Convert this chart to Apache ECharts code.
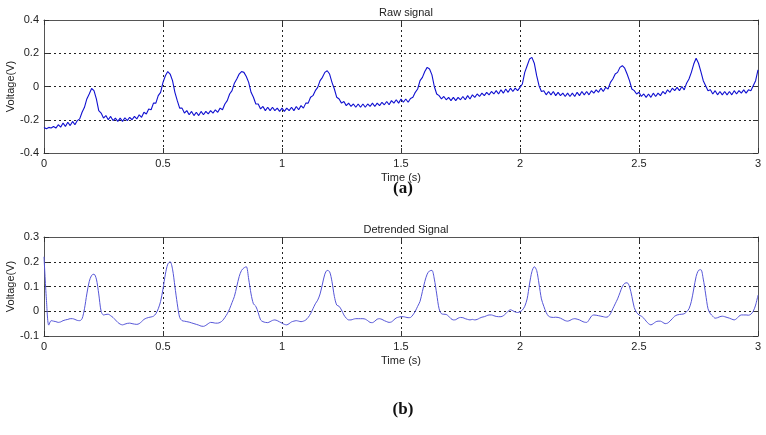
<!DOCTYPE html>
<html>
<head>
<meta charset="utf-8">
<script src="https://cdn.jsdelivr.net/npm/echarts@6/dist/echarts.min.js"></script>
<style>
html,body{margin:0;padding:0;background:#fff;}
#chart{width:766px;height:435px;}
</style>
</head>
<body>
<div id="chart"></div>
<script>
// sampling step (s)
const sampleStep = 0.01;
const xTicks = ['0', '0.5', '1', '1.5', '2', '2.5', '3'];
const rawTicks = ['-0.4', '-0.2', '0', '0.2', '0.4'];
const detTicks = ['-0.1', '0', '0.1', '0.2', '0.3'];

// Raw signal, one value per 10 ms (0.00 .. 3.00 s)
const rawSignal = [
  -0.246,-0.254,-0.246,-0.25,-0.241,-0.25,-0.23,-0.245,-0.22,-0.24,
  -0.215,-0.235,-0.21,-0.23,-0.205,-0.195,-0.155,-0.125,-0.075,-0.045,
  -0.012,-0.025,-0.075,-0.145,-0.16,-0.19,-0.175,-0.2,-0.18,-0.205,
  -0.19,-0.21,-0.19,-0.21,-0.188,-0.205,-0.185,-0.2,-0.18,-0.195,
  -0.17,-0.185,-0.155,-0.165,-0.135,-0.14,-0.1,-0.1,-0.055,-0.035,
  0.025,0.065,0.09,0.075,0.035,-0.035,-0.085,-0.13,-0.13,-0.16,
  -0.145,-0.17,-0.15,-0.175,-0.155,-0.175,-0.15,-0.17,-0.15,-0.165,
  -0.145,-0.16,-0.14,-0.155,-0.13,-0.14,-0.105,-0.085,-0.045,-0.025,
  0.02,0.045,0.075,0.09,0.085,0.06,0.025,-0.035,-0.065,-0.105,
  -0.105,-0.135,-0.12,-0.145,-0.125,-0.145,-0.125,-0.145,-0.13,-0.15,
  -0.13,-0.15,-0.13,-0.145,-0.125,-0.145,-0.12,-0.14,-0.115,-0.13,
  -0.1,-0.1,-0.065,-0.055,-0.025,-0.005,0.035,0.055,0.085,0.095,
  0.075,0.025,-0.015,-0.065,-0.075,-0.1,-0.09,-0.115,-0.1,-0.12,
  -0.105,-0.125,-0.105,-0.125,-0.105,-0.125,-0.105,-0.12,-0.1,-0.12,
  -0.1,-0.115,-0.095,-0.11,-0.09,-0.11,-0.085,-0.1,-0.08,-0.1,
  -0.075,-0.095,-0.075,-0.095,-0.072,-0.065,-0.035,-0.015,0.035,0.055,
  0.09,0.115,0.105,0.07,0.0,-0.045,-0.055,-0.075,-0.06,-0.08,
  -0.065,-0.085,-0.065,-0.085,-0.065,-0.08,-0.06,-0.08,-0.055,-0.075,
  -0.05,-0.065,-0.045,-0.06,-0.04,-0.055,-0.035,-0.05,-0.03,-0.045,
  -0.025,-0.045,-0.02,-0.04,-0.015,-0.035,-0.01,-0.03,-0.01,-0.025,
  -0.005,0.015,0.085,0.125,0.165,0.175,0.14,0.065,0.005,-0.03,
  -0.025,-0.05,-0.03,-0.05,-0.03,-0.055,-0.035,-0.055,-0.04,-0.06,
  -0.04,-0.06,-0.04,-0.06,-0.035,-0.055,-0.03,-0.05,-0.03,-0.05,
  -0.025,-0.04,-0.02,-0.035,-0.01,-0.03,-0.005,-0.015,0.025,0.045,
  0.075,0.085,0.115,0.125,0.11,0.075,0.035,-0.015,-0.025,-0.045,
  -0.035,-0.06,-0.045,-0.065,-0.045,-0.065,-0.04,-0.06,-0.04,-0.055,
  -0.03,-0.045,-0.02,-0.035,-0.01,-0.025,-0.005,-0.025,0.0,-0.02,
  0.02,0.045,0.085,0.135,0.17,0.14,0.09,0.035,0.005,-0.025,
  -0.02,-0.045,-0.025,-0.05,-0.03,-0.05,-0.03,-0.05,-0.03,-0.05,
  -0.025,-0.045,-0.025,-0.04,-0.02,-0.04,-0.02,-0.025,0.005,0.035,
  0.1
];

// Detrended signal, one value per 10 ms (0.00 .. 3.00 s)
const detrendedSignal = [
  0.22,0.05,-0.056,-0.038,-0.04,-0.042,-0.045,-0.043,-0.038,-0.035,
  -0.033,-0.03,-0.03,-0.033,-0.037,-0.038,-0.03,0.01,0.07,0.12,
  0.145,0.15,0.13,0.07,0.0,-0.015,-0.013,-0.012,-0.018,-0.025,
  -0.035,-0.045,-0.052,-0.055,-0.052,-0.049,-0.048,-0.05,-0.052,-0.053,
  -0.05,-0.042,-0.033,-0.028,-0.025,-0.023,-0.02,-0.01,0.01,0.04,
  0.09,0.15,0.19,0.2,0.17,0.1,0.03,-0.025,-0.038,-0.04,
  -0.042,-0.044,-0.047,-0.05,-0.053,-0.056,-0.06,-0.061,-0.057,-0.05,
  -0.045,-0.046,-0.048,-0.048,-0.045,-0.038,-0.025,-0.01,0.01,0.035,
  0.06,0.1,0.14,0.165,0.175,0.18,0.13,0.07,0.03,0.02,
  -0.005,-0.035,-0.042,-0.045,-0.046,-0.042,-0.037,-0.035,-0.038,-0.043,
  -0.048,-0.053,-0.055,-0.05,-0.043,-0.04,-0.038,-0.04,-0.042,-0.04,
  -0.035,-0.025,-0.01,0.01,0.03,0.045,0.07,0.11,0.15,0.165,
  0.16,0.12,0.06,0.025,0.02,0.005,-0.015,-0.028,-0.035,-0.035,
  -0.032,-0.03,-0.03,-0.03,-0.03,-0.032,-0.038,-0.045,-0.046,-0.04,
  -0.032,-0.03,-0.033,-0.038,-0.042,-0.045,-0.043,-0.035,-0.027,-0.024,
  -0.022,-0.022,-0.024,-0.026,-0.025,-0.015,0.0,0.02,0.04,0.08,
  0.12,0.15,0.163,0.165,0.13,0.07,0.01,-0.01,-0.012,-0.013,
  -0.02,-0.03,-0.035,-0.034,-0.028,-0.025,-0.026,-0.03,-0.033,-0.035,
  -0.033,-0.035,-0.033,-0.028,-0.024,-0.022,-0.018,-0.015,-0.015,-0.018,
  -0.021,-0.022,-0.022,-0.018,-0.01,0.0,0.006,0.002,-0.003,-0.005,
  -0.002,0.005,0.02,0.05,0.11,0.16,0.18,0.165,0.11,0.05,
  0.02,-0.005,-0.02,-0.024,-0.025,-0.024,-0.025,-0.028,-0.033,-0.038,
  -0.04,-0.037,-0.032,-0.03,-0.032,-0.035,-0.04,-0.044,-0.045,-0.035,
  -0.02,-0.015,-0.016,-0.018,-0.02,-0.022,-0.024,-0.022,-0.01,0.01,
  0.03,0.05,0.075,0.1,0.113,0.115,0.1,0.06,0.015,-0.005,
  -0.015,-0.02,-0.028,-0.04,-0.05,-0.055,-0.05,-0.043,-0.04,-0.04,
  -0.045,-0.05,-0.048,-0.04,-0.03,-0.02,-0.015,-0.013,-0.012,-0.01,
  -0.002,0.01,0.04,0.09,0.14,0.165,0.168,0.13,0.07,0.01,
  -0.01,-0.02,-0.028,-0.026,-0.022,-0.02,-0.022,-0.025,-0.028,-0.032,
  -0.035,-0.03,-0.02,-0.015,-0.015,-0.015,-0.016,-0.012,0.0,0.025,
  0.065
];

function toPairs(arr) {
  return arr.map((v, i) => [+(i * sampleStep).toFixed(2), v]);
}

const FONT = "'Liberation Sans Narrow','Liberation Sans','DejaVu Sans Condensed',sans-serif";
const labelStyle = { color: '#222', fontSize: 11, fontFamily: FONT };
const gridLine = { show: true, lineStyle: { color: '#222', type: [2, 3], width: 1 } };
const borderLine = { show: true, onZero: false, lineStyle: { color: '#555', width: 1 } };
const tickIn = { show: true, inside: true, length: 5, lineStyle: { color: '#333' } };

function xAxes(gi) {
  return [
    {
      type: 'value', gridIndex: gi, position: 'bottom', min: 0, max: 3, interval: 0.5,
      axisLine: borderLine, axisTick: tickIn, splitLine: gridLine,
      axisLabel: Object.assign({ margin: 5, formatter: v => xTicks[Math.round(v * 2)] }, labelStyle),
      name: 'Time (s)', nameLocation: 'middle', nameGap: 19, nameMoveOverlap: false,
      nameTextStyle: { color: '#222', fontSize: 11, fontFamily: FONT }
    },
    {
      type: 'value', gridIndex: gi, position: 'top', min: 0, max: 3, interval: 0.5,
      axisLine: borderLine, axisTick: tickIn, splitLine: { show: false }, axisLabel: { show: false }
    }
  ];
}
function yAxes(gi, mn, mx, step, ticks) {
  return [
    {
      type: 'value', gridIndex: gi, position: 'left', min: mn, max: mx, interval: step,
      axisLine: borderLine, axisTick: tickIn, splitLine: gridLine,
      axisLabel: Object.assign({ margin: 5, formatter: v => ticks[Math.round((v - mn) / step)] }, labelStyle),
      name: 'Voltage(V)', nameLocation: 'middle', nameGap: 28, nameMoveOverlap: false,
      nameTextStyle: { color: '#222', fontSize: 11, fontFamily: FONT }
    },
    {
      type: 'value', gridIndex: gi, position: 'right', min: mn, max: mx, interval: step,
      axisLine: borderLine, axisTick: tickIn, splitLine: { show: false }, axisLabel: { show: false }
    }
  ];
}

const chart = echarts.init(document.getElementById('chart'), null, { renderer: 'canvas' });
chart.setOption({
  animation: false,
  backgroundColor: '#fff',
  title: [
    { text: 'Raw signal', left: 401, top: 2, textAlign: 'center',
      textStyle: { fontSize: 11, fontWeight: 'normal', color: '#222', fontFamily: FONT } },
    { text: 'Detrended Signal', left: 401, top: 219, textAlign: 'center',
      textStyle: { fontSize: 11, fontWeight: 'normal', color: '#222', fontFamily: FONT } },
    { text: '{n|(}{b|a}{n|)}', left: 398, top: 175, textAlign: 'center',
      textStyle: { rich: {
        n: { fontSize: 17, fontFamily: "'Liberation Serif',serif", color: '#111' },
        b: { fontSize: 17, fontFamily: "'Liberation Serif',serif", fontWeight: 'bold', color: '#111' } } } },
    { text: '{n|(}{b|b}{n|)}', left: 398, top: 396, textAlign: 'center',
      textStyle: { rich: {
        n: { fontSize: 17, fontFamily: "'Liberation Serif',serif", color: '#111' },
        b: { fontSize: 17, fontFamily: "'Liberation Serif',serif", fontWeight: 'bold', color: '#111' } } } }
  ],
  grid: [
    { left: 44, right: 8, top: 20, height: 133, containLabel: false, outerBoundsMode: 'none' },
    { left: 44, right: 8, top: 237, height: 99, containLabel: false, outerBoundsMode: 'none' }
  ],
  xAxis: [...xAxes(0), ...xAxes(1)],
  yAxis: [...yAxes(0, -0.4, 0.4, 0.2, rawTicks), ...yAxes(1, -0.1, 0.3, 0.1, detTicks)],
  series: [
    { type: 'line', xAxisIndex: 0, yAxisIndex: 0, data: toPairs(rawSignal), showSymbol: false,
      lineStyle: { color: '#1010d0', width: 1.1 } },
    { type: 'line', xAxisIndex: 2, yAxisIndex: 2, data: toPairs(detrendedSignal), showSymbol: false, smooth: 0.3,
      lineStyle: { color: '#5656d8', width: 1 } }
  ]
});
</script>
</body>
</html>
